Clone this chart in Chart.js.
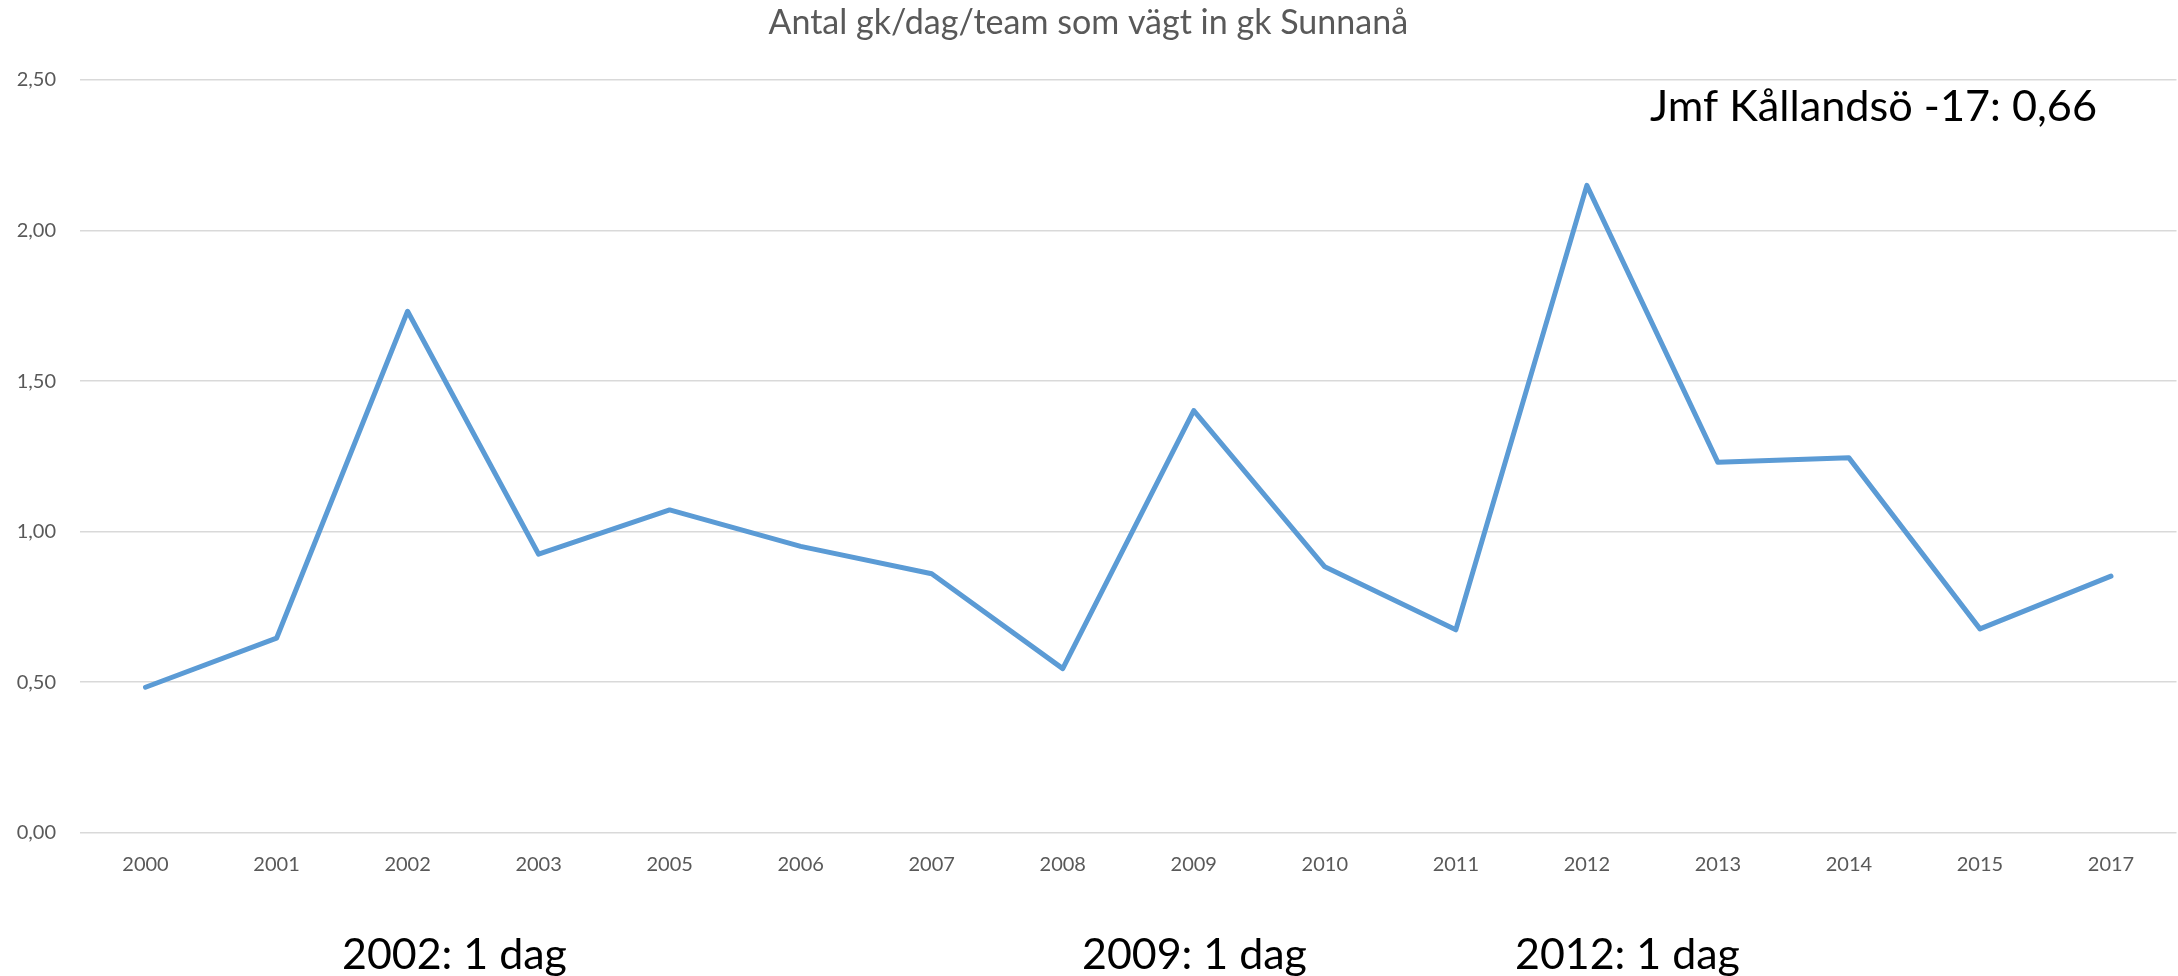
<!DOCTYPE html>
<html>
<head>
<meta charset="utf-8">
<script src="https://cdn.jsdelivr.net/npm/chart.js@4.4.1/dist/chart.umd.min.js"></script>
<style>
html,body{margin:0;padding:0;background:#fff;overflow:hidden}
#wrap{position:relative;width:2178px;height:976px}
canvas{display:block}
</style>
</head>
<body>
<div id="wrap"><canvas id="c" width="2178" height="976"></canvas></div>
<script>
// ---- data ----
const categories = ['2000','2001','2002','2003','2005','2006','2007','2008','2009','2010','2011','2012','2013','2014','2015','2017'];
const values = [0.483, 0.646, 1.732, 0.925, 1.072, 0.951, 0.860, 0.545, 1.402, 0.883, 0.674, 2.150, 1.230, 1.245, 0.677, 0.852];
const yTickValues = [0, 0.5, 1.0, 1.5, 2.0, 2.5];
const titleText = 'Antal gk/dag/team som vägt in gk Sunnanå';
const noteTexts = ['Jmf Kållandsö -17: 0,66', '2002: 1 dag', '2009: 1 dag', '2012: 1 dag'];

// ---- layout / style (not data) ----
const FONT = 'Lato, "Open Sans", sans-serif';
const noteLayout = [
  {x: 1650, base: 121, w: 447},
  {x: 342,  base: 969, w: 225},
  {x: 1082, base: 969, w: 225},
  {x: 1515, base: 969, w: 225}
];
const mctx = document.createElement('canvas').getContext('2d');
function fitSize(text, width) {
  mctx.font = '100px ' + FONT;
  return 100 * width / mctx.measureText(text).width;
}
const titleSize = fitSize(titleText, 640);
const padTop = 23 - 0.6 * titleSize;

const notesPlugin = {
  id: 'notes',
  afterDraw(chart) {
    const ctx = chart.ctx;
    ctx.save();
    ctx.fillStyle = '#000000';
    ctx.textAlign = 'left';
    ctx.textBaseline = 'alphabetic';
    noteTexts.forEach((t, i) => {
      const L = noteLayout[i];
      ctx.font = fitSize(t, L.w).toFixed(2) + 'px ' + FONT;
      ctx.fillText(t, L.x, L.base);
    });
    ctx.restore();
  }
};

new Chart(document.getElementById('c'), {
  type: 'line',
  data: {
    labels: categories,
    datasets: [{
      data: values,
      borderColor: '#5B9BD5',
      backgroundColor: '#5B9BD5',
      borderWidth: 5,
      pointRadius: 0,
      tension: 0,
      fill: false,
      borderJoinStyle: 'round',
      borderCapStyle: 'round'
    }]
  },
  options: {
    responsive: false,
    animation: false,
    devicePixelRatio: 1,
    layout: {padding: {left: 0, right: 1.5, top: 0, bottom: 0}},
    plugins: {
      legend: {display: false},
      tooltip: {enabled: false},
      title: {
        display: true,
        text: titleText,
        color: '#595959',
        font: {family: FONT, size: titleSize, weight: 'normal', lineHeight: 1.2},
        padding: {top: padTop, bottom: 80 - padTop - 1.2 * titleSize}
      }
    },
    scales: {
      x: {
        type: 'category',
        offset: true,
        grid: {display: false, drawTicks: false},
        border: {display: false},
        ticks: {color: '#595959', font: {family: FONT, size: 20}, padding: 20, maxRotation: 0, autoSkip: false},
        afterFit: s => { s.height = 143.3; }
      },
      y: {
        min: 0,
        max: 2.5,
        afterBuildTicks: s => { s.ticks = yTickValues.map(v => ({value: v})); },
        grid: {color: '#D9D9D9', lineWidth: 1.5, drawTicks: false},
        border: {display: false},
        ticks: {
          color: '#595959',
          font: {family: FONT, size: 20},
          padding: 24,
          callback: v => Number(v).toFixed(2).replace('.', ',')
        },
        afterFit: s => { s.width = 80; }
      }
    }
  },
  plugins: [notesPlugin]
});
</script>
</body>
</html>
